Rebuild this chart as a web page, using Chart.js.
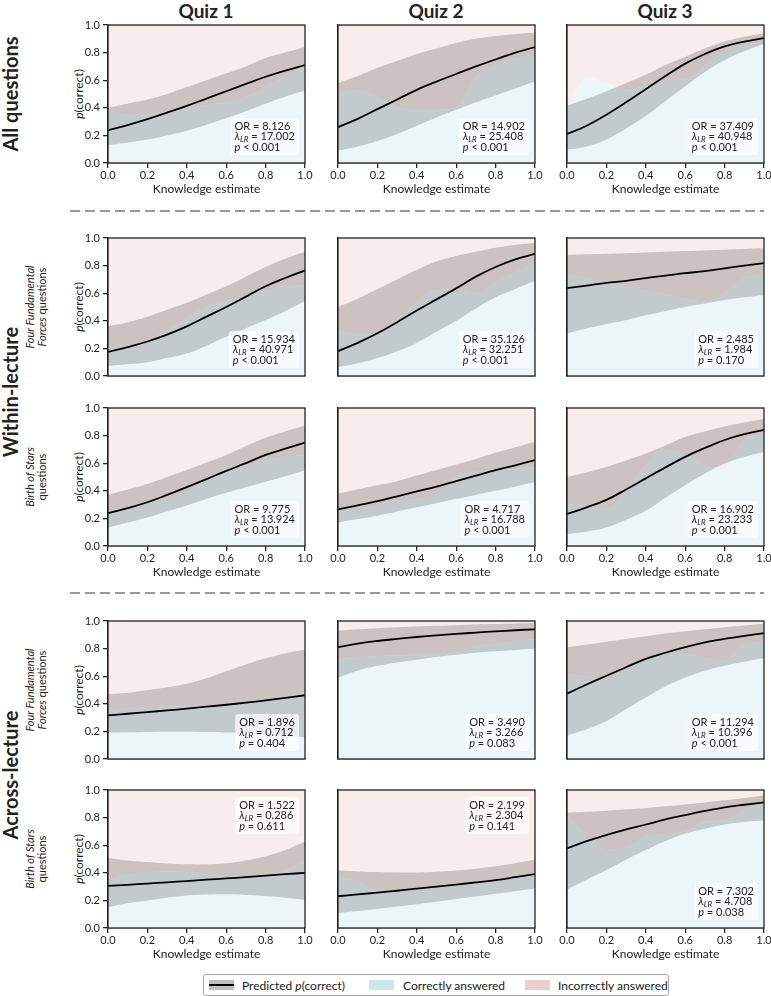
<!DOCTYPE html>
<html>
<head>
<meta charset="utf-8">
<script src="https://cdn.jsdelivr.net/npm/chart.js@4"></script>
<style>
html, body { margin: 0; padding: 0; overflow: hidden; background: #fff; }
body { position: relative; width: 771px; height: 996px; font-family: Lato, 'Noto Sans', sans-serif; color: #222; }
canvas { position: absolute; }
.lbl { position: absolute; white-space: nowrap; text-align: center; transform: translate(-50%, -50%); }
.rot { transform: translate(-50%, -50%) rotate(-90deg); }
.quiz { font-size: 19px; font-weight: bold; }
.group { font-size: 20px; font-weight: bold; }
.sub { font-size: 11px; line-height: 12px; }
.ytitle { font-size: 12px; }
#legend { position: absolute; left: 203px; top: 974px; width: 464px; height: 20px; border: 1px solid #aaa; border-radius: 3px; font-size: 12px; }
#legend span { position: absolute; top: 50%; transform: translateY(-50%); white-space: nowrap; }
.sw { position: absolute; top: 5px; height: 10px; width: 25px; }
</style>
</head>
<body>
<svg width="771" height="996" style="position:absolute;left:0;top:0">
  <line x1="70" y1="211" x2="764" y2="211" stroke="#999" stroke-width="2" stroke-dasharray="10 5"/>
  <line x1="70" y1="593" x2="764" y2="593" stroke="#999" stroke-width="2" stroke-dasharray="10 5"/>
</svg>

<div class="lbl quiz" style="left:206px;top:10px">Quiz 1</div>
<div class="lbl quiz" style="left:436px;top:10px">Quiz 2</div>
<div class="lbl quiz" style="left:665px;top:10px">Quiz 3</div>

<div class="lbl rot group" style="left:10px;top:94px">All questions</div>
<div class="lbl rot group" style="left:10px;top:392px">Within-lecture</div>
<div class="lbl rot group" style="left:10px;top:775px">Across-lecture</div>

<div class="lbl rot sub" style="left:36px;top:307px"><i>Four Fundamental</i><br><i>Forces</i> questions</div>
<div class="lbl rot sub" style="left:36px;top:477px"><i>Birth of Stars</i><br>questions</div>
<div class="lbl rot sub" style="left:36px;top:690px"><i>Four Fundamental</i><br><i>Forces</i> questions</div>
<div class="lbl rot sub" style="left:36px;top:859px"><i>Birth of Stars</i><br>questions</div>

<div class="lbl rot ytitle" style="left:78px;top:94px"><i>p</i>(correct)</div>
<div class="lbl rot ytitle" style="left:78px;top:307px"><i>p</i>(correct)</div>
<div class="lbl rot ytitle" style="left:78px;top:477px"><i>p</i>(correct)</div>
<div class="lbl rot ytitle" style="left:78px;top:690px"><i>p</i>(correct)</div>
<div class="lbl rot ytitle" style="left:78px;top:859px"><i>p</i>(correct)</div>

<div id="legend">
  <div class="sw" style="left:5px;background:rgba(30,30,30,0.28)"><div style="position:absolute;left:0;right:0;top:4px;height:2px;background:#000"></div></div>
  <span style="left:38px">Predicted <i>p</i>(correct)</span>
  <div class="sw" style="left:165px;background:#cce8ed"></div>
  <span style="left:199px">Correctly answered</span>
  <div class="sw" style="left:321px;background:#eecdce"></div>
  <span style="left:354px">Incorrectly answered</span>
</div>

<script>
// knowledge estimate grid (x)
var knowledge = [0, 0.1, 0.2, 0.3, 0.4, 0.5, 0.6, 0.7, 0.8, 0.9, 1.0];
var ticks = [0, 0.2, 0.4, 0.6, 0.8, 1.0];

// All questions
var allQ1Fit = [0.236,0.275,0.318,0.365,0.414,0.467,0.52,0.573,0.625,0.67,0.71];
var allQ1Hi  = [0.40,0.43,0.46,0.50,0.55,0.60,0.65,0.70,0.76,0.80,0.84];
var allQ1Lo  = [0.128,0.148,0.17,0.20,0.234,0.278,0.325,0.375,0.43,0.48,0.525];
var allQ1Cor = [0.38,0.35,0.35,0.37,0.40,0.42,0.44,0.48,0.55,0.63,0.70];
var allQ1Stats = ['8.126', '17.002', '< 0.001'];

var allQ2Fit = [0.26,0.32,0.39,0.46,0.53,0.59,0.645,0.70,0.75,0.80,0.84];
var allQ2Hi  = [0.58,0.63,0.69,0.74,0.79,0.83,0.87,0.90,0.92,0.935,0.945];
var allQ2Lo  = [0.09,0.12,0.16,0.21,0.27,0.33,0.385,0.44,0.49,0.54,0.59];
var allQ2Cor = [0.50,0.53,0.48,0.41,0.385,0.385,0.40,0.62,0.71,0.76,0.80];
var allQ2Stats = ['14.902', '25.408', '< 0.001'];

var allQ3Fit = [0.21,0.27,0.35,0.44,0.535,0.63,0.72,0.79,0.845,0.88,0.905];
var allQ3Hi  = [0.415,0.465,0.52,0.58,0.64,0.71,0.77,0.83,0.88,0.915,0.94];
var allQ3Lo  = [0.096,0.12,0.17,0.25,0.34,0.45,0.555,0.66,0.745,0.81,0.865];
var allQ3Cor = [0.40,0.62,0.58,0.53,0.56,0.60,0.61,0.70,0.81,0.855,0.88];
var allQ3Stats = ['37.409', '40.948', '< 0.001'];

// Within-lecture, Four Fundamental Forces questions
var withinFFQ1Fit = [0.175,0.21,0.25,0.30,0.36,0.43,0.50,0.575,0.65,0.71,0.765];
var withinFFQ1Hi  = [0.36,0.39,0.43,0.48,0.53,0.59,0.65,0.72,0.79,0.85,0.90];
var withinFFQ1Lo  = [0.073,0.085,0.10,0.13,0.163,0.22,0.284,0.345,0.405,0.47,0.544];
var withinFFQ1Cor = [0.21,0.22,0.26,0.33,0.42,0.50,0.55,0.58,0.62,0.645,0.66];
var withinFFQ1Stats = ['15.934', '40.971', '< 0.001'];

var withinFFQ2Fit = [0.18,0.24,0.31,0.39,0.475,0.555,0.635,0.72,0.79,0.845,0.885];
var withinFFQ2Hi  = [0.50,0.56,0.63,0.70,0.77,0.83,0.87,0.90,0.93,0.95,0.963];
var withinFFQ2Lo  = [0.065,0.09,0.13,0.18,0.24,0.32,0.40,0.49,0.57,0.63,0.69];
var withinFFQ2Cor = [0.33,0.30,0.31,0.40,0.54,0.63,0.63,0.60,0.68,0.75,0.82];
var withinFFQ2Stats = ['35.126', '32.251', '< 0.001'];

var withinFFQ3Fit = [0.636,0.655,0.675,0.69,0.71,0.727,0.745,0.76,0.78,0.80,0.818];
var withinFFQ3Hi  = [0.878,0.882,0.886,0.89,0.895,0.90,0.905,0.91,0.915,0.92,0.927];
var withinFFQ3Lo  = [0.31,0.345,0.375,0.405,0.44,0.47,0.50,0.525,0.55,0.57,0.587];
var withinFFQ3Cor = [0.745,0.71,0.675,0.65,0.62,0.59,0.56,0.54,0.60,0.71,0.74];
var withinFFQ3Stats = ['2.485', '1.984', '= 0.170'];

// Within-lecture, Birth of Stars questions
var withinBSQ1Fit = [0.237,0.275,0.317,0.37,0.427,0.485,0.544,0.60,0.66,0.705,0.749];
var withinBSQ1Hi  = [0.373,0.41,0.45,0.50,0.55,0.605,0.66,0.725,0.785,0.83,0.873];
var withinBSQ1Lo  = [0.134,0.17,0.207,0.25,0.293,0.34,0.385,0.425,0.465,0.505,0.549];
var withinBSQ1Cor = [0.23,0.27,0.31,0.35,0.38,0.49,0.56,0.585,0.62,0.645,0.66];
var withinBSQ1Stats = ['9.775', '13.924', '< 0.001'];

var withinBSQ2Fit = [0.265,0.295,0.325,0.36,0.395,0.43,0.47,0.51,0.55,0.585,0.622];
var withinBSQ2Hi  = [0.38,0.41,0.44,0.47,0.51,0.55,0.59,0.63,0.675,0.715,0.756];
var withinBSQ2Lo  = [0.17,0.195,0.22,0.25,0.28,0.31,0.34,0.37,0.40,0.43,0.463];
var withinBSQ2Cor = [0.25,0.27,0.30,0.33,0.34,0.38,0.50,0.54,0.555,0.56,0.573];
var withinBSQ2Stats = ['4.717', '16.788', '< 0.001'];

var withinBSQ3Fit = [0.232,0.28,0.334,0.41,0.49,0.57,0.646,0.71,0.768,0.81,0.841];
var withinBSQ3Hi  = [0.50,0.535,0.573,0.62,0.67,0.73,0.79,0.83,0.866,0.895,0.922];
var withinBSQ3Lo  = [0.085,0.105,0.134,0.19,0.256,0.35,0.44,0.525,0.598,0.645,0.683];
var withinBSQ3Cor = [0.305,0.29,0.27,0.40,0.59,0.70,0.67,0.585,0.57,0.77,0.82];
var withinBSQ3Stats = ['16.902', '23.233', '< 0.001'];

// Across-lecture, Four Fundamental Forces questions
var acrossFFQ1Fit = [0.316,0.328,0.34,0.352,0.365,0.379,0.393,0.408,0.425,0.443,0.462];
var acrossFFQ1Hi  = [0.47,0.48,0.50,0.52,0.545,0.585,0.635,0.685,0.73,0.765,0.793];
var acrossFFQ1Lo  = [0.19,0.193,0.196,0.198,0.198,0.196,0.192,0.185,0.175,0.166,0.158];
var acrossFFQ1Cor = [0.35,0.37,0.38,0.385,0.39,0.39,0.40,0.41,0.42,0.45,0.49];
var acrossFFQ1Stats = ['1.896', '0.712', '= 0.404'];

var acrossFFQ2Fit = [0.81,0.836,0.855,0.87,0.884,0.896,0.906,0.916,0.925,0.933,0.94];
var acrossFFQ2Hi  = [0.93,0.94,0.948,0.955,0.96,0.965,0.97,0.975,0.978,0.982,0.985];
var acrossFFQ2Lo  = [0.59,0.64,0.675,0.70,0.72,0.74,0.755,0.77,0.78,0.79,0.80];
var acrossFFQ2Cor = [0.73,0.74,0.745,0.75,0.755,0.76,0.775,0.815,0.835,0.855,0.87];
var acrossFFQ2Stats = ['3.490', '3.266', '= 0.083'];

var acrossFFQ3Fit = [0.474,0.54,0.603,0.665,0.725,0.77,0.81,0.845,0.87,0.893,0.912];
var acrossFFQ3Hi  = [0.81,0.83,0.85,0.87,0.89,0.91,0.925,0.94,0.955,0.968,0.98];
var acrossFFQ3Lo  = [0.17,0.215,0.275,0.36,0.445,0.525,0.59,0.64,0.676,0.705,0.732];
var acrossFFQ3Cor = [0.615,0.60,0.58,0.65,0.725,0.77,0.76,0.73,0.715,0.83,0.85];
var acrossFFQ3Stats = ['11.294', '10.396', '< 0.001'];

// Across-lecture, Birth of Stars questions
var acrossBSQ1Fit = [0.305,0.313,0.322,0.331,0.34,0.35,0.359,0.369,0.379,0.39,0.40];
var acrossBSQ1Hi  = [0.508,0.49,0.478,0.468,0.462,0.462,0.47,0.49,0.52,0.565,0.625];
var acrossBSQ1Lo  = [0.153,0.18,0.20,0.22,0.235,0.242,0.245,0.24,0.232,0.22,0.206];
var acrossBSQ1Cor = [0.345,0.39,0.405,0.41,0.41,0.395,0.375,0.37,0.37,0.42,0.49];
var acrossBSQ1Stats = ['1.522', '0.286', '= 0.611'];

var acrossBSQ2Fit = [0.23,0.243,0.257,0.27,0.285,0.30,0.315,0.33,0.347,0.368,0.39];
var acrossBSQ2Hi  = [0.418,0.41,0.405,0.402,0.403,0.408,0.417,0.43,0.448,0.47,0.496];
var acrossBSQ2Lo  = [0.109,0.123,0.138,0.155,0.172,0.19,0.21,0.228,0.248,0.267,0.286];
var acrossBSQ2Cor = [0.37,0.34,0.27,0.27,0.28,0.29,0.305,0.32,0.35,0.37,0.39];
var acrossBSQ2Stats = ['2.199', '2.304', '= 0.141'];

var acrossBSQ3Fit = [0.576,0.63,0.673,0.715,0.75,0.787,0.818,0.848,0.874,0.893,0.91];
var acrossBSQ3Hi  = [0.835,0.842,0.85,0.86,0.87,0.882,0.895,0.91,0.925,0.942,0.96];
var acrossBSQ3Lo  = [0.28,0.35,0.42,0.495,0.565,0.63,0.685,0.72,0.75,0.768,0.78];
var acrossBSQ3Cor = [0.83,0.66,0.565,0.59,0.66,0.685,0.70,0.77,0.78,0.855,0.90];
var acrossBSQ3Stats = ['7.302', '4.708', '= 0.038'];

var FONT = "Lato, 'Noto Sans', sans-serif";
var INK = '#222';
var PINK = '#f9ecec';
var CYAN = '#ecf6f8';
var BAND = 'rgba(30,30,30,0.2)';

// panel layout (plot area corners in page pixels)
var colLeft = [108, 338, 567];
var rowTop = [25, 238, 408, 621, 790];
var plotW = 197, plotH = 138;
var padL = 44, padT = 10, padR = 12, padB = 40;

// rows of panels: [fit, hi, lo, correct, stats, statsOnTop]
var rows = [
  [[allQ1Fit, allQ1Hi, allQ1Lo, allQ1Cor, allQ1Stats],
   [allQ2Fit, allQ2Hi, allQ2Lo, allQ2Cor, allQ2Stats],
   [allQ3Fit, allQ3Hi, allQ3Lo, allQ3Cor, allQ3Stats]],
  [[withinFFQ1Fit, withinFFQ1Hi, withinFFQ1Lo, withinFFQ1Cor, withinFFQ1Stats],
   [withinFFQ2Fit, withinFFQ2Hi, withinFFQ2Lo, withinFFQ2Cor, withinFFQ2Stats],
   [withinFFQ3Fit, withinFFQ3Hi, withinFFQ3Lo, withinFFQ3Cor, withinFFQ3Stats]],
  [[withinBSQ1Fit, withinBSQ1Hi, withinBSQ1Lo, withinBSQ1Cor, withinBSQ1Stats],
   [withinBSQ2Fit, withinBSQ2Hi, withinBSQ2Lo, withinBSQ2Cor, withinBSQ2Stats],
   [withinBSQ3Fit, withinBSQ3Hi, withinBSQ3Lo, withinBSQ3Cor, withinBSQ3Stats]],
  [[acrossFFQ1Fit, acrossFFQ1Hi, acrossFFQ1Lo, acrossFFQ1Cor, acrossFFQ1Stats],
   [acrossFFQ2Fit, acrossFFQ2Hi, acrossFFQ2Lo, acrossFFQ2Cor, acrossFFQ2Stats],
   [acrossFFQ3Fit, acrossFFQ3Hi, acrossFFQ3Lo, acrossFFQ3Cor, acrossFFQ3Stats]],
  [[acrossBSQ1Fit, acrossBSQ1Hi, acrossBSQ1Lo, acrossBSQ1Cor, acrossBSQ1Stats, true],
   [acrossBSQ2Fit, acrossBSQ2Hi, acrossBSQ2Lo, acrossBSQ2Cor, acrossBSQ2Stats, true],
   [acrossBSQ3Fit, acrossBSQ3Hi, acrossBSQ3Lo, acrossBSQ3Cor, acrossBSQ3Stats]]
];
var showXTicks = [true, false, true, false, true];

function pts(arr) {
  return knowledge.map(function (x, i) { return { x: x, y: arr[i] }; });
}

// black frame round the plot area
var panelFrame = {
  id: 'panelFrame',
  afterDatasetsDraw: function (chart) {
    var a = chart.chartArea, ctx = chart.ctx;
    ctx.save();
    ctx.strokeStyle = INK;
    ctx.lineWidth = 1.3;
    ctx.strokeRect(a.left, a.top, a.right - a.left, a.bottom - a.top);
    ctx.restore();
  }
};

// OR / lambda_LR / p text box
var statBox = {
  id: 'statBox',
  afterDraw: function (chart, args, opts) {
    var s = opts.stats;
    if (!s) return;
    var a = chart.chartArea, ctx = chart.ctx;
    ctx.save();
    ctx.font = '11px ' + FONT;
    var l1 = 'OR = ' + s[0];
    var w1 = ctx.measureText(l1).width;
    var rest2 = ' = ' + s[1];
    var wRest2 = ctx.measureText(rest2).width;
    var rest3 = ' ' + s[2];
    var wRest3 = ctx.measureText(rest3).width;
    ctx.font = 'italic 11px ' + FONT;
    var wLam = ctx.measureText('\u03bb').width;
    var wP = ctx.measureText('p').width;
    ctx.font = 'italic 8px ' + FONT;
    var wSub = ctx.measureText('LR').width;
    var w = Math.max(w1, wLam + wSub + wRest2, wP + wRest3);
    var x = a.right - 10 - w;
    var cy = opts.top ? [a.top + 15, a.top + 25.5, a.top + 36]
                      : [a.bottom - 37, a.bottom - 26.5, a.bottom - 16];
    ctx.fillStyle = 'rgba(255,255,255,0.7)';
    ctx.beginPath();
    ctx.roundRect(x - 4, cy[0] - 8, w + 8, cy[2] - cy[0] + 16, 3);
    ctx.fill();
    ctx.fillStyle = INK;
    ctx.textBaseline = 'middle';
    ctx.textAlign = 'left';
    ctx.font = '11px ' + FONT;
    ctx.fillText(l1, x, cy[0]);
    ctx.font = 'italic 11px ' + FONT;
    ctx.fillText('\u03bb', x, cy[1]);
    ctx.font = 'italic 8px ' + FONT;
    ctx.fillText('LR', x + wLam, cy[1] + 3);
    ctx.font = '11px ' + FONT;
    ctx.fillText(rest2, x + wLam + wSub, cy[1]);
    ctx.font = 'italic 11px ' + FONT;
    ctx.fillText('p', x, cy[2]);
    ctx.font = '11px ' + FONT;
    ctx.fillText(rest3, x + wP, cy[2]);
    ctx.restore();
  }
};

rows.forEach(function (row, r) {
  row.forEach(function (p, c) {
    var canvas = document.createElement('canvas');
    canvas.width = padL + plotW + padR;
    canvas.height = padT + plotH + padB;
    canvas.style.left = (colLeft[c] - padL) + 'px';
    canvas.style.top = (rowTop[r] - padT) + 'px';
    document.body.appendChild(canvas);

    var showX = showXTicks[r];
    var showY = c === 0;

    new Chart(canvas, {
      type: 'line',
      data: {
        datasets: [
          { label: 'Incorrectly answered', data: pts(p[3]), fill: 'end', backgroundColor: PINK,
            borderWidth: 0, borderColor: 'transparent', cubicInterpolationMode: 'monotone', order: 5 },
          { label: 'Correctly answered', data: pts(p[3]), fill: 'origin', backgroundColor: CYAN,
            borderWidth: 0, borderColor: 'transparent', cubicInterpolationMode: 'monotone', order: 4 },
          { label: 'upper', data: pts(p[1]), fill: false,
            borderWidth: 0, borderColor: 'transparent', tension: 0.4, order: 3 },
          { label: 'lower', data: pts(p[2]), fill: 2, backgroundColor: BAND,
            borderWidth: 0, borderColor: 'transparent', tension: 0.4, order: 2 },
          { label: 'Predicted p(correct)', data: pts(p[0]), fill: false, borderColor: '#000',
            borderWidth: 1.8, tension: 0.4, order: 1 }
        ]
      },
      options: {
        responsive: false,
        animation: false,
        devicePixelRatio: 1,
        layout: { padding: { top: padT, right: padR, left: 0, bottom: 0 } },
        elements: { point: { radius: 0 } },
        plugins: {
          legend: { display: false },
          tooltip: { enabled: false },
          statBox: { stats: p[4], top: !!p[5] }
        },
        scales: {
          x: {
            type: 'linear', min: 0, max: 1,
            afterFit: function (s) { s.height = padB; },
            afterBuildTicks: function (s) { s.ticks = ticks.map(function (v) { return { value: v }; }); },
            ticks: { display: showX, color: INK, padding: 1, font: { family: FONT, size: 11 },
                     maxRotation: 0, callback: function (v) { return v.toFixed(1); } },
            grid: { display: true, drawOnChartArea: false, drawTicks: showX, tickLength: 5,
                    color: INK, lineWidth: 1.3 },
            border: { display: true, color: INK, width: 1.3 },
            title: { display: showX, text: 'Knowledge estimate', color: INK,
                     font: { family: FONT, size: 12 }, padding: { top: 0, bottom: 7 } }
          },
          y: {
            min: 0, max: 1,
            afterFit: function (s) { s.width = padL; },
            afterBuildTicks: function (s) { s.ticks = ticks.map(function (v) { return { value: v }; }); },
            ticks: { display: showY, color: INK, padding: 3, font: { family: FONT, size: 11 },
                     callback: function (v) { return v.toFixed(1); } },
            grid: { display: true, drawOnChartArea: false, drawTicks: showY, tickLength: 5,
                    color: INK, lineWidth: 1.3 },
            border: { display: true, color: INK, width: 1.3 }
          }
        }
      },
      plugins: [panelFrame, statBox]
    });
  });
});
</script>
</body>
</html>
